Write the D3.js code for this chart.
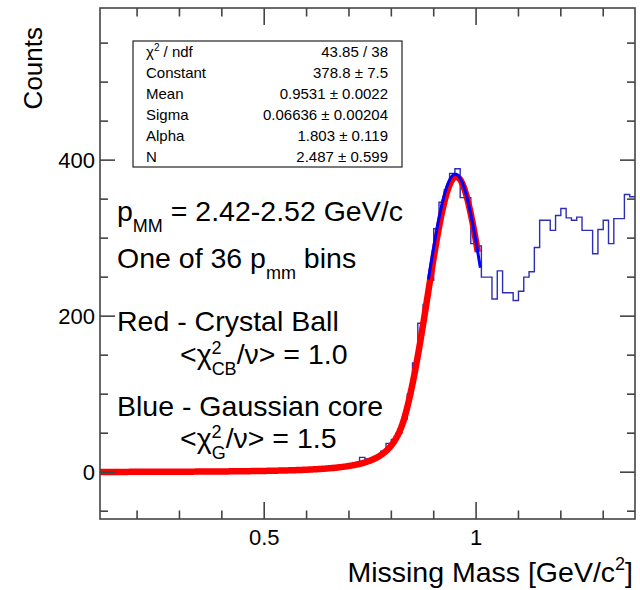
<!DOCTYPE html>
<html>
<head>
<meta charset="utf-8">
<script src="https://cdn.jsdelivr.net/npm/d3@7"></script>
<style>
  body { margin: 0; background: #fff; }
  text { font-family: "Liberation Sans", Arial, Helvetica, sans-serif; fill: #000; }
</style>
</head>
<body>
<svg id="chart" width="640" height="590"></svg>
<script>
// Histogram binning (GeV/c^2) and bin contents
const binLow = 0.1125;
const binWidth = 0.0125;
const counts = [
  0, 0, 0, 0, 0, 0, 0, 0, 0, 0,
  0, 0, 0, 0, 0, 0, 0, 0, 0, 0,
  0, 0, 0, 0, 0, 0, 0, 0, 0, 0,
  0, 1, 0, 1, 1, 2, 1, 2, 2, 2,
  2, 3, 4, 4, 4, 6, 5, 8, 10, 19,
  17, 16, 20, 27, 37, 42, 50, 68, 100, 140,
  191, 215, 246, 312, 346, 362, 383, 389, 352, 352,
  293, 290, 250, 250, 222, 258, 230, 230, 220, 232,
  250, 257, 288, 323, 323, 310, 329, 338, 326, 323,
  327, 310, 310, 280, 311, 323, 293, 325, 325, 356,
  353
];

// Axis ranges and ticks
const xDomain = [0.1125, 1.375];
const yDomain = [-60, 595];
const xMajorTicks = [0.5, 1];
const xMinorStep = 0.1;
const yMajorTicks = [0, 200, 400];
const yMinorStep = 50;

// Crystal Ball fit (red) and Gaussian core fit (blue)
const cbParams = { constant: 378.8, mean: 0.9531, sigma: 0.06636, alpha: 1.803, n: 2.487 };
const cbRange = [0.1125, 1.004];
const gausParams = { constant: 382, mean: 0.951, sigma: 0.068 };
const gausRange = [0.8875, 1.01];

// Fit statistics box
const statLabels = ["χ2 / ndf", "Constant", "Mean", "Sigma", "Alpha", "N"];
const statValues = ["43.85 / 38", "378.8 ± 7.5", "0.9531 ± 0.0022", "0.06636 ± 0.00204", "1.803 ± 0.119", "2.487 ± 0.599"];

const svg = d3.select("#chart");
const frame = { left: 100, right: 635, top: 8, bottom: 519 };

const x = d3.scaleLinear().domain(xDomain).range([frame.left, frame.right]);
const y = d3.scaleLinear().domain(yDomain).range([frame.bottom, frame.top]);

svg.append("defs").append("clipPath").attr("id", "clip")
  .append("rect").attr("x", frame.left).attr("y", frame.top)
  .attr("width", frame.right - frame.left).attr("height", frame.bottom - frame.top);

// ---- histogram outline ----
const histPts = counts.map((c, i) => [binLow + i * binWidth, c]);
histPts.push([binLow + counts.length * binWidth, counts[counts.length - 1]]);
const stepLine = d3.line().x(d => x(d[0])).y(d => y(d[1])).curve(d3.curveStepAfter);
svg.append("path")
  .attr("clip-path", "url(#clip)")
  .attr("d", stepLine(histPts))
  .attr("fill", "none")
  .attr("stroke", "#2e2eb4")
  .attr("stroke-width", 1.4);

// ---- fit functions ----
function crystalBall(v, p) {
  const z = (v - p.mean) / p.sigma;
  if (z > -p.alpha) return p.constant * Math.exp(-0.5 * z * z);
  const A = Math.pow(p.n / p.alpha, p.n) * Math.exp(-0.5 * p.alpha * p.alpha);
  const B = p.n / p.alpha - p.alpha;
  return p.constant * A * Math.pow(B - z, -p.n);
}
function gaussian(v, p) {
  const z = (v - p.mean) / p.sigma;
  return p.constant * Math.exp(-0.5 * z * z);
}
const curve = d3.line().x(d => x(d[0])).y(d => y(d[1]));

const cbPts = d3.range(cbRange[0], cbRange[1] + 1e-9, (cbRange[1] - cbRange[0]) / 400)
  .map(v => [v, crystalBall(v, cbParams)]);
svg.append("path")
  .attr("clip-path", "url(#clip)")
  .attr("d", curve(cbPts))
  .attr("fill", "none").attr("stroke", "#ff0000")
  .attr("stroke-width", 6.5).attr("stroke-linejoin", "round");

const gPts = d3.range(gausRange[0], gausRange[1] + 1e-9, (gausRange[1] - gausRange[0]) / 200)
  .map(v => [v, gaussian(v, gausParams)]);
svg.append("path")
  .attr("clip-path", "url(#clip)")
  .attr("d", curve(gPts))
  .attr("fill", "none").attr("stroke", "#0000ff")
  .attr("stroke-width", 3).attr("stroke-linejoin", "round");

// ---- frame and ticks ----
const axisColor = "#444";
svg.append("rect")
  .attr("x", frame.left).attr("y", frame.top)
  .attr("width", frame.right - frame.left).attr("height", frame.bottom - frame.top)
  .attr("fill", "none").attr("stroke", axisColor).attr("stroke-width", 1.6);

const xMinor = d3.range(0.2, xDomain[1], xMinorStep).map(v => +v.toFixed(4))
  .filter(v => v > xDomain[0] && !xMajorTicks.some(m => Math.abs(m - v) < 1e-6));
const yMinor = d3.range(-50, yDomain[1], yMinorStep)
  .filter(v => !yMajorTicks.includes(v));

const ticks = svg.append("g").attr("stroke", axisColor).attr("stroke-width", 1.6);
function xTick(v, len) {
  ticks.append("line").attr("x1", x(v)).attr("x2", x(v)).attr("y1", frame.bottom).attr("y2", frame.bottom - len);
  ticks.append("line").attr("x1", x(v)).attr("x2", x(v)).attr("y1", frame.top).attr("y2", frame.top + len);
}
function yTick(v, len) {
  ticks.append("line").attr("y1", y(v)).attr("y2", y(v)).attr("x1", frame.left).attr("x2", frame.left + len);
  ticks.append("line").attr("y1", y(v)).attr("y2", y(v)).attr("x1", frame.right).attr("x2", frame.right - len);
}
xMajorTicks.forEach(v => xTick(v, 17));
xMinor.forEach(v => xTick(v, 8.5));
yMajorTicks.forEach(v => yTick(v, 15));
yMinor.forEach(v => yTick(v, 8));

// tick labels via d3 formatting
const fmt = d3.format("");
svg.append("g").selectAll("text").data(xMajorTicks).join("text")
  .attr("x", d => x(d)).attr("y", 545)
  .attr("text-anchor", "middle").attr("font-size", 22)
  .text(d => fmt(d));
svg.append("g").selectAll("text").data(yMajorTicks).join("text")
  .attr("x", 95).attr("y", d => y(d) + 8)
  .attr("text-anchor", "end").attr("font-size", 22)
  .text(d => fmt(d));

// ---- axis titles ----
svg.append("text")
  .attr("transform", "translate(42,27) rotate(-90)")
  .attr("text-anchor", "end").attr("font-size", 26)
  .text("Counts");

const xt = svg.append("text")
  .attr("x", 633).attr("y", 582)
  .attr("text-anchor", "end").attr("font-size", 28.5);
xt.append("tspan").text("Missing Mass [GeV/c");
xt.append("tspan").attr("font-size", 18).attr("dy", -12).text("2");
xt.append("tspan").attr("dy", 12).text("]");

// ---- statistics box ----
const box = { x0: 133, x1: 402, y0: 41, y1: 167 };
svg.append("rect")
  .attr("x", box.x0).attr("y", box.y0)
  .attr("width", box.x1 - box.x0).attr("height", box.y1 - box.y0)
  .attr("fill", "#fff").attr("stroke", "#222").attr("stroke-width", 1.2);
const rowH = (box.y1 - box.y0) / statLabels.length;
statLabels.forEach((lab, i) => {
  const yy = box.y0 + rowH * (i + 0.5) + 5.5;
  const t = svg.append("text").attr("x", 146).attr("y", yy).attr("font-size", 15);
  if (lab.startsWith("χ2")) {
    t.append("tspan").text("χ");
    t.append("tspan").attr("font-size", 10).attr("dy", -6).text("2");
    t.append("tspan").attr("dy", 6).text(" / ndf");
  } else {
    t.text(lab);
  }
  svg.append("text").attr("x", 388).attr("y", yy).attr("font-size", 15)
    .attr("text-anchor", "end").text(statValues[i]);
});

// ---- annotations ----
const fs = 28.5, small = 18;
function rich(xx, yy, parts) {
  const t = svg.append("text").attr("x", xx).attr("y", yy).attr("font-size", fs);
  let shift = 0;
  parts.forEach(p => {
    const [txt, kind, back] = p;
    let target = 0;
    if (kind === "sub") target = 11;
    else if (kind === "sup") target = -10;
    const ts = t.append("tspan").attr("dy", target - shift).text(txt);
    if (kind) ts.attr("font-size", small);
    if (back) ts.attr("dx", -back);
    shift = target;
  });
  return t;
}
rich(117, 221, [["p"], ["MM", "sub"], [" = 2.42-2.52 GeV/c"]]);
rich(117, 268, [["One of 36 p"], ["mm", "sub"], [" bins"]]);
rich(117, 331, [["Red - Crystal Ball"]]);
rich(180, 364, [["<χ"], ["2", "sup"], ["CB", "sub", 10], ["/ν> = 1.0"]]);
rich(117, 416, [["Blue - Gaussian core"]]);
rich(180, 448, [["<χ"], ["2", "sup"], ["G", "sub", 10], ["/ν> = 1.5"]]);
</script>
</body>
</html>
